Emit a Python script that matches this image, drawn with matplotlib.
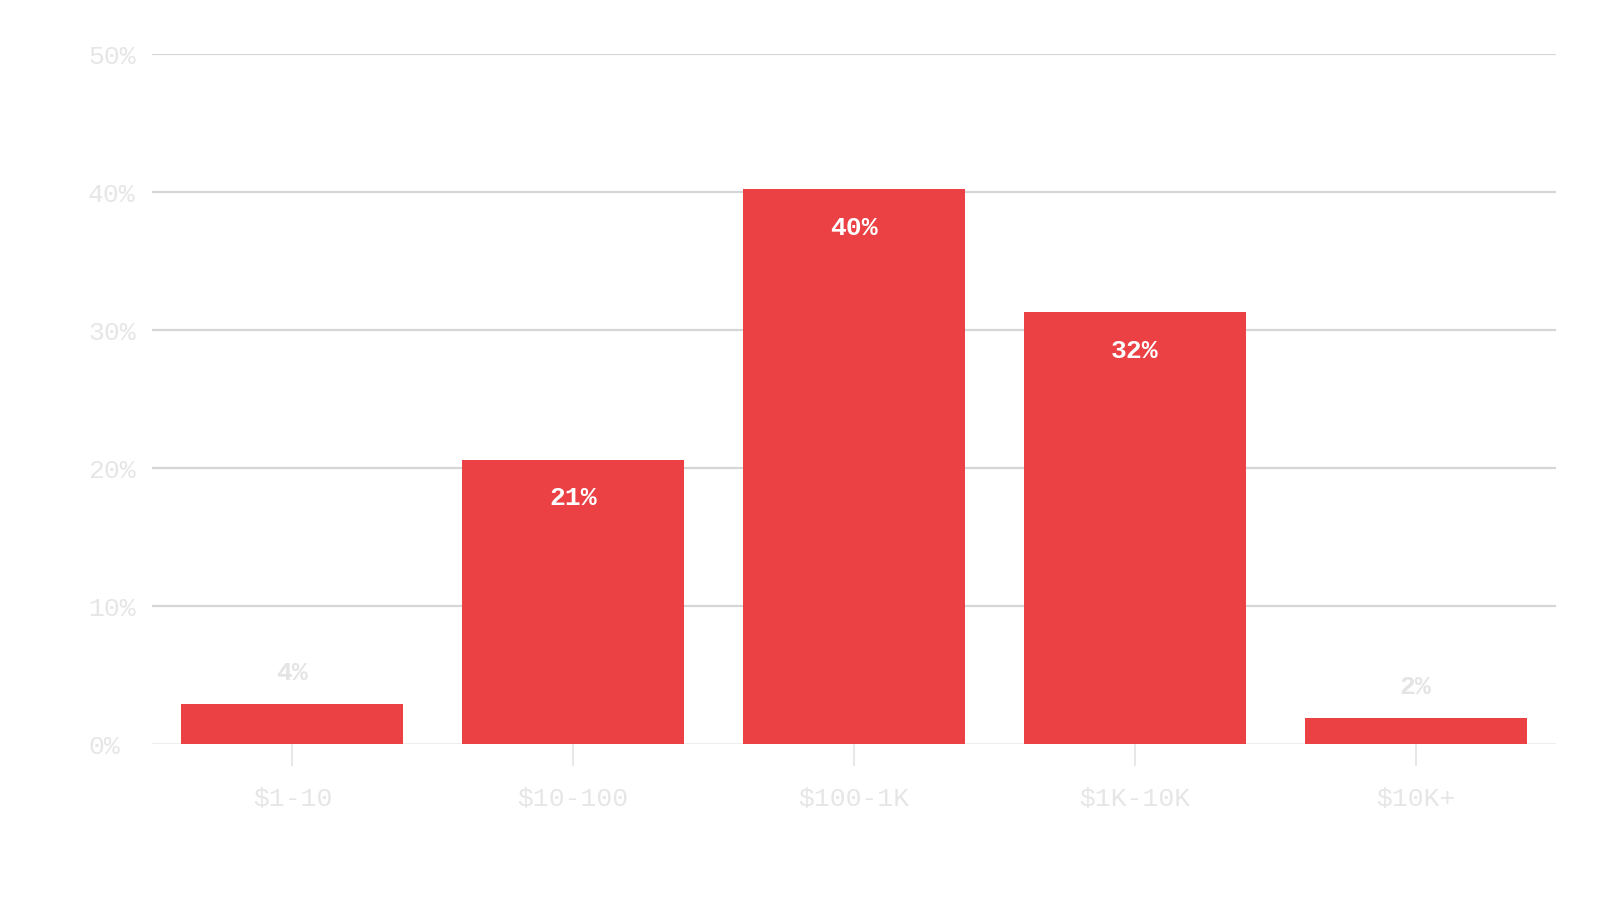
import matplotlib
matplotlib.use("Agg")
import matplotlib.pyplot as plt

categories = ["$1-10", "$10-100", "$100-1K", "$1K-10K", "$10K+"]
values = [2.9, 20.6, 40.2, 31.3, 1.9]
value_labels = ["4%", "21%", "40%", "32%", "2%"]
y_ticks = [0, 10, 20, 30, 40, 50]
y_tick_labels = ["0%", "10%", "20%", "30%", "40%", "50%"]

BAR = "#EB4044"
FONT = ["Liberation Mono", "DejaVu Sans Mono"]

fig = plt.figure(figsize=(16, 9.2), dpi=100)
ax = fig.add_axes([152/1600, 175/920, 1404/1600, 690/920])

x = list(range(len(categories)))
ax.bar(x, values, width=0.79, color=BAR, zorder=3)

ax.set_xlim(-0.5, len(categories) - 0.5)
ax.set_ylim(0, 50)

for s in ax.spines.values():
    s.set_visible(False)

# gridlines
for t in y_ticks:
    if t == 0:
        ax.axhline(t, color="#eeeeee", lw=1.5, zorder=1)
    else:
        ax.axhline(t, color="#d6d6d6", lw=1.6, zorder=1)

ax.set_yticks(y_ticks)
ax.set_yticklabels(y_tick_labels, fontfamily=FONT, fontsize=19, color="#e6e6e6")
ax.tick_params(axis="y", length=0, pad=46)
for lab in ax.get_yticklabels():
    lab.set_horizontalalignment("left")

ax.set_xticks(x)
ax.set_xticklabels(categories, fontfamily=FONT, fontsize=19, color="#e6e6e6")
ax.tick_params(axis="x", length=16, width=1.5, color="#e8e8e8", pad=14)

for xi, v, lab in zip(x, values, value_labels):
    if v > 10:
        ax.annotate(lab, (xi, v), xytext=(0, -27), textcoords="offset points",
                    ha="center", va="center", fontfamily=FONT, fontsize=19,
                    fontweight="bold", color="white", zorder=4)
    else:
        ax.annotate(lab, (xi, v), xytext=(0, 23), textcoords="offset points",
                    ha="center", va="center", fontfamily=FONT, fontsize=19,
                    fontweight="bold", color="#e4e4e4", zorder=4)

fig.savefig("out.png", dpi=100, facecolor="white")
